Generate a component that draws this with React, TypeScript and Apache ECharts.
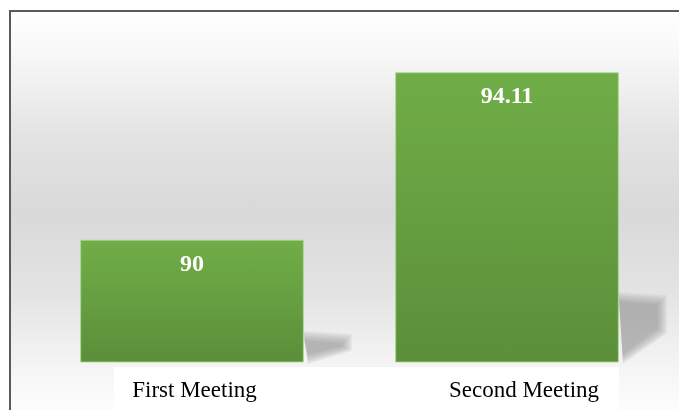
import React, { useEffect, useRef } from "react";
import * as echarts from "echarts";

const categories = ["First Meeting", "Second Meeting"];
const values = [90, 94.11];
const Y_MIN = 87;
const Y_MAX = 95;

export default function App() {
  const ref = useRef<HTMLDivElement>(null);
  useEffect(() => {
    if (!ref.current) return;
    const chart = echarts.init(ref.current, null, { renderer: "svg" });
    const serif = "'Liberation Serif', 'Times New Roman', serif";
    const barFrac = 0.71;
    chart.setOption({
      animation: false,
      graphic: [
        {
          type: "rect",
          z: 0,
          silent: true,
          shape: { x: 10, y: 11, width: 680, height: 420 },
          style: {
            fill: new echarts.graphic.LinearGradient(0, 0, 0, 1, [
              { offset: 0, color: "#ffffff" },
              { offset: 0.1, color: "#f8f8f8" },
              { offset: 0.3, color: "#e3e3e3" },
              { offset: 0.48, color: "#d9d9d9" },
              { offset: 0.68, color: "#e4e4e4" },
              { offset: 0.85, color: "#f5f5f5" },
              { offset: 0.93, color: "#fbfbfb" },
              { offset: 1, color: "#ffffff" },
            ]),
            stroke: "#5a5a5a",
            lineWidth: 2,
          },
        },
        {
          type: "rect",
          z: 1,
          silent: true,
          shape: { x: 114, y: 367, width: 505, height: 50 },
          style: { fill: "#ffffff" },
        },
      ],
      grid: { left: 34.5, right: 14.5, top: 36, bottom: 48 },
      xAxis: {
        type: "category",
        data: categories,
        z: 5,
        axisLine: { show: false },
        axisTick: { show: false },
        axisLabel: {
          margin: 16,
          color: "#000",
          fontFamily: serif,
          fontSize: 23,
          formatter: (v: string) =>
            v === categories[0] ? `{a|${v}}` : `{b|${v}}`,
          rich: {
            a: { fontFamily: serif, fontSize: 23, color: "#000", padding: [0, 0, 0, 5] },
            b: { fontFamily: serif, fontSize: 23, color: "#000", padding: [0, 0, 0, 34] },
          },
        },
      },
      yAxis: {
        type: "value",
        min: Y_MIN,
        max: Y_MAX,
        show: false,
        splitLine: { show: false },
      },
      series: [
        {
          type: "custom",
          z: 1,
          silent: true,
          data: values.map((v, i) => [i, v]),
          renderItem: (params: any, api: any) => {
            const idx = api.value(0);
            const val = api.value(1);
            const top = api.coord([idx, val]);
            const base = api.coord([idx, Y_MIN]);
            const band = api.size([1, 0])[0];
            const right = top[0] + (band * barFrac) / 2;
            const h = (base[1] - top[1]) * 0.23;
            const b = base[1];
            const children = [];
            for (let k = 0; k < 7; k++) {
              const d = k * 1.6 - 3;
              children.push({
                type: "polygon",
                shape: {
                  points: [
                    [right, b - h + d],
                    [right + 45 - d, b - h + 3 + d],
                    [right + 45 - d, b - h * 0.45 - d * 0.5],
                    [right + 4, b - 1 - d],
                  ],
                },
                style: { fill: "rgba(140,140,140,0.11)" },
              });
            }
            return { type: "group", children };
          },
        },
        {
          type: "bar",
          z: 2,
          data: values,
          barWidth: `${barFrac * 100}%`,
          itemStyle: {
            color: new echarts.graphic.LinearGradient(0, 0, 0, 1, [
              { offset: 0, color: "#70ad47" },
              { offset: 1, color: "#5b8f3a" },
            ]),
            borderColor: "rgba(170,215,140,0.8)",
            borderWidth: 1,
          },
          label: {
            show: true,
            position: "insideTop",
            distance: 11,
            color: "#ffffff",
            fontFamily: serif,
            fontWeight: "bold",
            fontSize: 24,
          },
        },
      ],
    });
    return () => chart.dispose();
  }, []);
  return (
    <div
      ref={ref}
      style={{ position: "fixed", left: 0, top: 0, width: 679, height: 410 }}
    />
  );
}
